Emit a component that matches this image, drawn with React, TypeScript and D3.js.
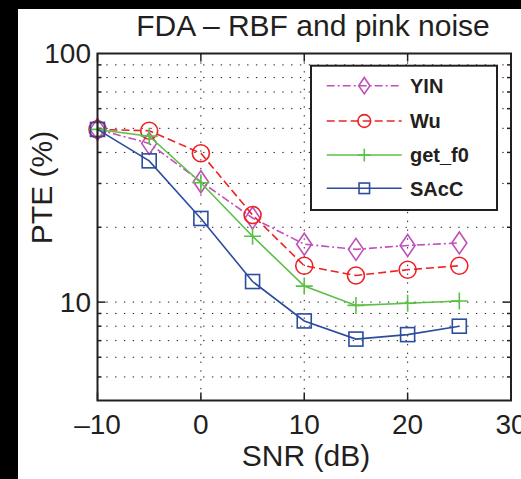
import * as d3 from "d3";

const SNR = [-10, -5, 0, 5, 10, 15, 20, 25];
const YIN = [49.5, 43.5, 30.5, 21.8, 17.1, 16.3, 16.9, 17.3];
const WU = [49.5, 48.9, 39.7, 22.4, 14.0, 12.8, 13.5, 14.0];
const GET_F0 = [49.5, 46.5, 30.2, 18.4, 11.6, 9.7, 9.9, 10.1];
const SACC = [49.5, 37.0, 21.7, 12.1, 8.4, 7.1, 7.4, 8.0];

const X_TICKS = [-10, 0, 10, 20, 30];
const Y_TICKS = [10, 100];
const Y_MINOR = [5, 6, 7, 8, 9, 10, 20, 30, 40, 50, 60, 70, 80, 90];

const TITLE = "FDA – RBF and pink noise";
const X_LABEL = "SNR (dB)";
const Y_LABEL = "PTE (%)";

const W = 521;
const H = 479;
const AX = { left: 97.5, top: 53.5, right: 511, bottom: 400.5 };
const INK = "#231f20";
const FONT = "'Liberation Sans', Arial, Helvetica, sans-serif";

type Marker = "diamond" | "circle" | "plus" | "square";

const SERIES: { name: string; values: number[]; color: string; dash: string; marker: Marker }[] = [
  { name: "YIN", values: YIN, color: "#c050b8", dash: "8 3 2 3", marker: "diamond" },
  { name: "Wu", values: WU, color: "#ee2024", dash: "8 4", marker: "circle" },
  { name: "get_f0", values: GET_F0, color: "#5cbf47", dash: "", marker: "plus" },
  { name: "SAcC", values: SACC, color: "#2b4c9f", dash: "", marker: "square" },
];

function MarkerShape({ kind, x, y, color, s = 1 }: { kind: Marker; x: number; y: number; color: string; s?: number }) {
  const common = { fill: "none", stroke: color, strokeWidth: 1.6 };
  if (kind === "circle") return <circle cx={x} cy={y} r={8.5 * s} {...common} />;
  if (kind === "square") {
    const h = 7 * s;
    return <rect x={x - h} y={y - h} width={2 * h} height={2 * h} {...common} />;
  }
  if (kind === "diamond") {
    const w = 7.5 * s;
    const h = 11 * s;
    return <path d={`M${x},${y - h}L${x + w},${y}L${x},${y + h}L${x - w},${y}Z`} {...common} />;
  }
  const p = 8.5 * s;
  return <path d={`M${x - p},${y}H${x + p}M${x},${y - p}V${y + p}`} {...common} />;
}

export default function App() {
  const x = d3.scaleLinear().domain([-10, 30]).range([AX.left, AX.right]);
  const y = d3.scaleLog().domain([4.02, 100]).range([AX.bottom, AX.top]);
  const line = d3
    .line<number>()
    .x((_, i) => x(SNR[i]))
    .y((v) => y(v));
  const fmt = (t: number) => (t < 0 ? "–" + Math.abs(t) : String(t));

  const legendRows = [85.7, 121, 155, 188.3];

  return (
    <svg
      width={W}
      height={H}
      style={{ position: "absolute", left: 0, top: 0, background: "#fff" }}
      fontFamily={FONT}
    >
      <rect x={0} y={0} width={W} height={9} fill="#000" />
      <rect x={0} y={0} width={18} height={H} fill="#000" />

      <text x={313} y={36} textAnchor="middle" fontSize={30} fill={INK}>
        {TITLE}
      </text>

      {/* dotted grid */}
      {Y_MINOR.map((v) => (
        <line
          key={`gy${v}`}
          x1={AX.left}
          x2={AX.right}
          y1={y(v)}
          y2={y(v)}
          stroke={INK}
          strokeWidth={1}
          strokeDasharray="1.4 7.4"
        />
      ))}
      {X_TICKS.slice(1, -1).map((t) => (
        <line
          key={`gx${t}`}
          x1={x(t)}
          x2={x(t)}
          y1={AX.top}
          y2={AX.bottom}
          stroke={INK}
          strokeWidth={1}
          strokeDasharray="1.4 7.4"
        />
      ))}

      {/* ticks */}
      {X_TICKS.map((t) => (
        <g key={`tx${t}`}>
          <line x1={x(t)} x2={x(t)} y1={AX.bottom} y2={AX.bottom - 8} stroke={INK} strokeWidth={1.5} />
          <line x1={x(t)} x2={x(t)} y1={AX.top} y2={AX.top + 8} stroke={INK} strokeWidth={1.5} />
          <text x={x(t)} y={434} textAnchor="middle" fontSize={28} fill={INK}>
            {fmt(t)}
          </text>
        </g>
      ))}
      {Y_MINOR.map((v) => {
        const len = Y_TICKS.includes(v) ? 8 : 4;
        return (
          <g key={`ty${v}`}>
            <line x1={AX.left} x2={AX.left + len} y1={y(v)} y2={y(v)} stroke={INK} strokeWidth={1.5} />
            <line x1={AX.right} x2={AX.right - len} y1={y(v)} y2={y(v)} stroke={INK} strokeWidth={1.5} />
          </g>
        );
      })}
      {Y_TICKS.map((v) => (
        <text key={`ly${v}`} x={91} y={y(v)} dy="0.35em" textAnchor="end" fontSize={28} fill={INK}>
          {v}
        </text>
      ))}

      {/* series */}
      {SERIES.map((s) => (
        <g key={s.name}>
          <path
            d={line(s.values) ?? ""}
            fill="none"
            stroke={s.color}
            strokeWidth={1.6}
            strokeDasharray={s.dash || undefined}
          />
          {s.values.map((v, i) => (
            <MarkerShape key={i} kind={s.marker} x={x(SNR[i])} y={y(v)} color={s.color} />
          ))}
        </g>
      ))}

      {/* axes box */}
      <rect
        x={AX.left}
        y={AX.top}
        width={AX.right - AX.left}
        height={AX.bottom - AX.top}
        fill="none"
        stroke={INK}
        strokeWidth={2}
      />

      {/* legend */}
      <rect x={311} y={65.7} width={186} height={144.3} fill="#fff" stroke={INK} strokeWidth={2} />
      {SERIES.map((s, i) => (
        <g key={`lg${s.name}`}>
          <line
            x1={326.7}
            x2={401.7}
            y1={legendRows[i]}
            y2={legendRows[i]}
            stroke={s.color}
            strokeWidth={1.6}
            strokeDasharray={s.dash || undefined}
          />
          <MarkerShape kind={s.marker} x={364.3} y={legendRows[i]} color={s.color} s={0.75} />
          <text x={410} y={legendRows[i]} dy="0.36em" fontSize={20} fontWeight="bold" fill={INK}>
            {s.name}
          </text>
        </g>
      ))}

      <text x={306} y={466} textAnchor="middle" fontSize={30} fill={INK}>
        {X_LABEL}
      </text>
      <text
        transform="translate(51.5,187.5) rotate(-90)"
        textAnchor="middle"
        fontSize={30}
        fill={INK}
      >
        {Y_LABEL}
      </text>
    </svg>
  );
}
